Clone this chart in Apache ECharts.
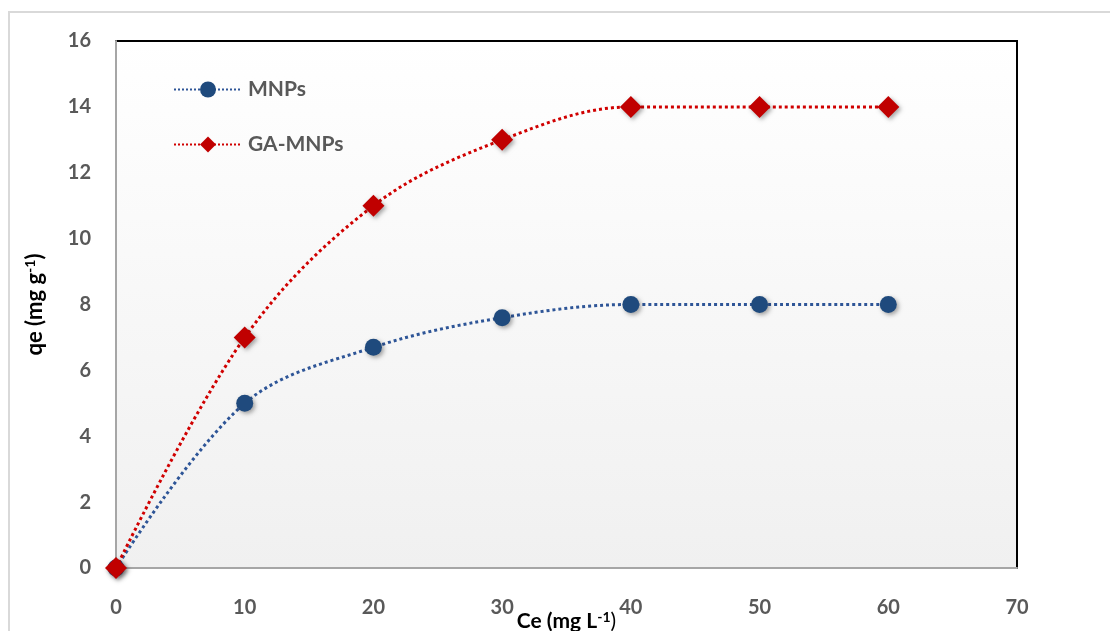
<!DOCTYPE html>
<html>
<head>
<meta charset="utf-8">
<script src="https://cdn.jsdelivr.net/npm/echarts@6/dist/echarts.min.js"></script>
<style>html,body{margin:0;padding:0;background:#fff;}#c{width:1110px;height:631px;}</style>
</head>
<body>
<div id="c"></div>
<script>
var ce = [0, 10, 20, 30, 40, 50, 60];
var mnps = [0, 5, 6.7, 7.6, 8, 8, 8];
var gaMnps = [0, 7, 11, 13, 14, 14, 14];
var seriesNames = ['MNPs', 'GA-MNPs'];

function pairs(xs, ys) { return xs.map(function (x, i) { return [x, ys[i]]; }); }

var FONT = 'Lato';
var chart = echarts.init(document.getElementById('c'));
var shadow = { shadowBlur: 4, shadowOffsetX: 2, shadowOffsetY: 2, shadowColor: 'rgba(0,0,0,0.35)' };

chart.setOption({
  animation: false,
  backgroundColor: '#fff',
  graphic: [{
    type: 'rect', shape: { x: 9, y: 12, width: 1300, height: 800 },
    style: { fill: 'none', stroke: '#d9d9d9', lineWidth: 2 }, silent: true, z: -10
  }],
  grid: {
    left: 116, right: 93, top: 41, bottom: 63,
    outerBoundsMode: 'none', containLabel: false,
    show: true, borderColor: '#000', borderWidth: 2,
    backgroundColor: {
      type: 'linear', x: 0, y: 0, x2: 0, y2: 1,
      colorStops: [{ offset: 0, color: '#ffffff' }, { offset: 1, color: '#f0f0f0' }]
    }
  },
  legend: {
    orient: 'vertical', left: 168, top: 74,
    itemWidth: 68, itemHeight: 20, itemGap: 34,
    data: seriesNames,
    textStyle: { fontFamily: FONT, fontWeight: 'bold', fontSize: 21, color: '#595959', padding: [0, 0, 0, 1] }
  },
  xAxis: {
    type: 'value', min: 0, max: 70, interval: 10,
    axisLine: { show: true, onZero: false, lineStyle: { color: '#a6a6a6', width: 2 } },
    axisTick: { show: false }, splitLine: { show: false },
    axisLabel: { margin: 30, fontFamily: FONT, fontWeight: 'bold', fontSize: 20, color: '#595959' },
    name: '{a|Ce (mg L}{s|-1}{b|)}', nameLocation: 'middle', nameGap: 42, nameMoveOverlap: false,
    nameTextStyle: {
      verticalAlign: 'top',
      rich: {
        a: { fontFamily: FONT, fontWeight: 'bold', fontSize: 21, lineHeight: 22, color: '#000' },
        s: { fontFamily: FONT, fontWeight: 'bold', fontSize: 14, lineHeight: 22, color: '#000', verticalAlign: 'top' },
        b: { fontFamily: FONT, fontWeight: 'normal', fontSize: 21, lineHeight: 22, color: '#000' }
      }
    }
  },
  yAxis: {
    type: 'value', min: 0, max: 16, interval: 2,
    axisLine: { show: true, onZero: false, lineStyle: { color: '#a6a6a6', width: 2 } },
    axisTick: { show: false }, splitLine: { show: false },
    axisLabel: { margin: 25, fontFamily: FONT, fontWeight: 'bold', fontSize: 20, color: '#595959' },
    name: '{a|qe (mg g}{s|-1}{a|)}', nameLocation: 'middle', nameGap: 69, nameRotate: 90, nameMoveOverlap: false,
    nameTextStyle: {
      rich: {
        a: { fontFamily: FONT, fontWeight: 'bold', fontSize: 22, lineHeight: 24, color: '#000' },
        s: { fontFamily: FONT, fontWeight: 'bold', fontSize: 14, lineHeight: 24, color: '#000', verticalAlign: 'top' }
      }
    }
  },
  series: [{
    name: seriesNames[0], type: 'line', data: pairs(ce, mnps), smooth: 0.35,
    symbol: 'circle', symbolSize: 17, z: 3,
    itemStyle: Object.assign({ color: '#1f4a7d' }, shadow),
    lineStyle: { color: '#2e5597', width: 3, type: 'dotted' }
  }, {
    name: seriesNames[1], type: 'line', data: pairs(ce, gaMnps), smooth: 0.35,
    symbol: 'diamond', symbolSize: [22, 22], z: 4,
    itemStyle: Object.assign({ color: '#c00000' }, shadow),
    lineStyle: { color: '#d00000', width: 3, type: 'dotted' }
  }]
});
</script>
</body>
</html>
